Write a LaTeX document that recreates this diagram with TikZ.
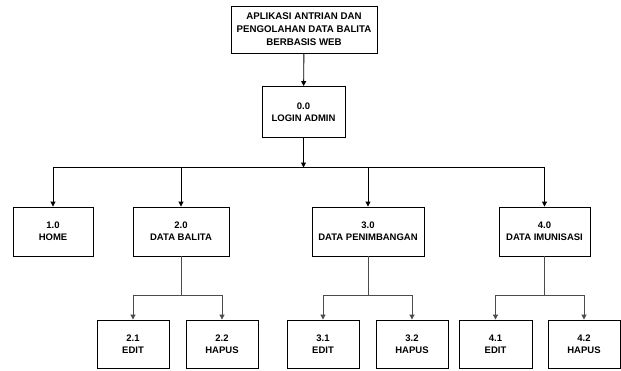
\documentclass[tikz,border=0pt]{standalone}
\usepackage{fontspec}
\setmainfont{Liberation Sans}
\usetikzlibrary{arrows.meta}
\begin{document}
\begin{tikzpicture}[x=1pt,y=-1pt,
  box/.style={draw=black,line width=0.9pt,fill=white,align=center,inner sep=0pt,
    font=\fontsize{9.5}{12}\selectfont\bfseries},
  link/.style={draw=black,line width=0.9pt},
  arr/.style={link,-{Triangle[width=5pt,length=5pt]}},
  sublink/.style={draw=black!70,line width=1pt},
  subarr/.style={sublink,-{Triangle[width=5pt,length=5pt]}}]
\useasboundingbox[fill=white] (0,0) rectangle (621,370);

% root and login
\node[box,minimum width=146pt,minimum height=47pt,font=\fontsize{9.7}{13}\selectfont\bfseries] (app) at (304,29.5)
  {APLIKASI ANTRIAN DAN\\PENGOLAHAN DATA BALITA\\BERBASIS WEB};
\node[box,minimum width=83pt,minimum height=51pt] (login) at (303.5,112) {0.0\\LOGIN ADMIN};

% first level
\node[box,minimum width=80pt,minimum height=49pt] (home) at (53,231.5) {1.0\\HOME};
\node[box,minimum width=96pt,minimum height=49pt] (balita) at (181,231.5) {2.0\\DATA BALITA};
\node[box,minimum width=112pt,minimum height=49pt] (timbang) at (368,231.5) {3.0\\DATA PENIMBANGAN};
\node[box,minimum width=91pt,minimum height=49pt] (imun) at (544.5,231.5) {4.0\\DATA IMUNISASI};

% second level
\node[box,minimum width=72pt,minimum height=48pt] (e2) at (133,344) {2.1\\EDIT};
\node[box,minimum width=72pt,minimum height=48pt] (h2) at (222,344) {2.2\\HAPUS};
\node[box,minimum width=72pt,minimum height=48pt] (e3) at (323,344) {3.1\\EDIT};
\node[box,minimum width=72pt,minimum height=48pt] (h3) at (412,344) {3.2\\HAPUS};
\node[box,minimum width=73pt,minimum height=48pt] (e4) at (495.5,344) {4.1\\EDIT};
\node[box,minimum width=72pt,minimum height=48pt] (h4) at (584,344) {4.2\\HAPUS};

% junction points
\coordinate (j0) at (303.5,167.5);
\coordinate (j2) at (181,295);
\coordinate (j3) at (368,295);
\coordinate (j4) at (544.5,295);

% connectors
\draw[arr] (app) -- (login);
\draw[arr] (login) -- (j0);
\draw[arr] (j0) -| (home.north);
\draw[arr] (j0) -| (balita.north);
\draw[arr] (j0) -| (timbang.north);
\draw[arr] (j0) -| (imun.north);

\draw[sublink] (balita) -- (j2);
\draw[subarr] (j2) -| (e2.north);
\draw[subarr] (j2) -| (h2.north);
\draw[sublink] (timbang) -- (j3);
\draw[subarr] (j3) -| (e3.north);
\draw[subarr] (j3) -| (h3.north);
\draw[sublink] (imun) -- (j4);
\draw[subarr] (j4) -| (e4.north);
\draw[subarr] (j4) -| (h4.north);
\end{tikzpicture}
\end{document}
